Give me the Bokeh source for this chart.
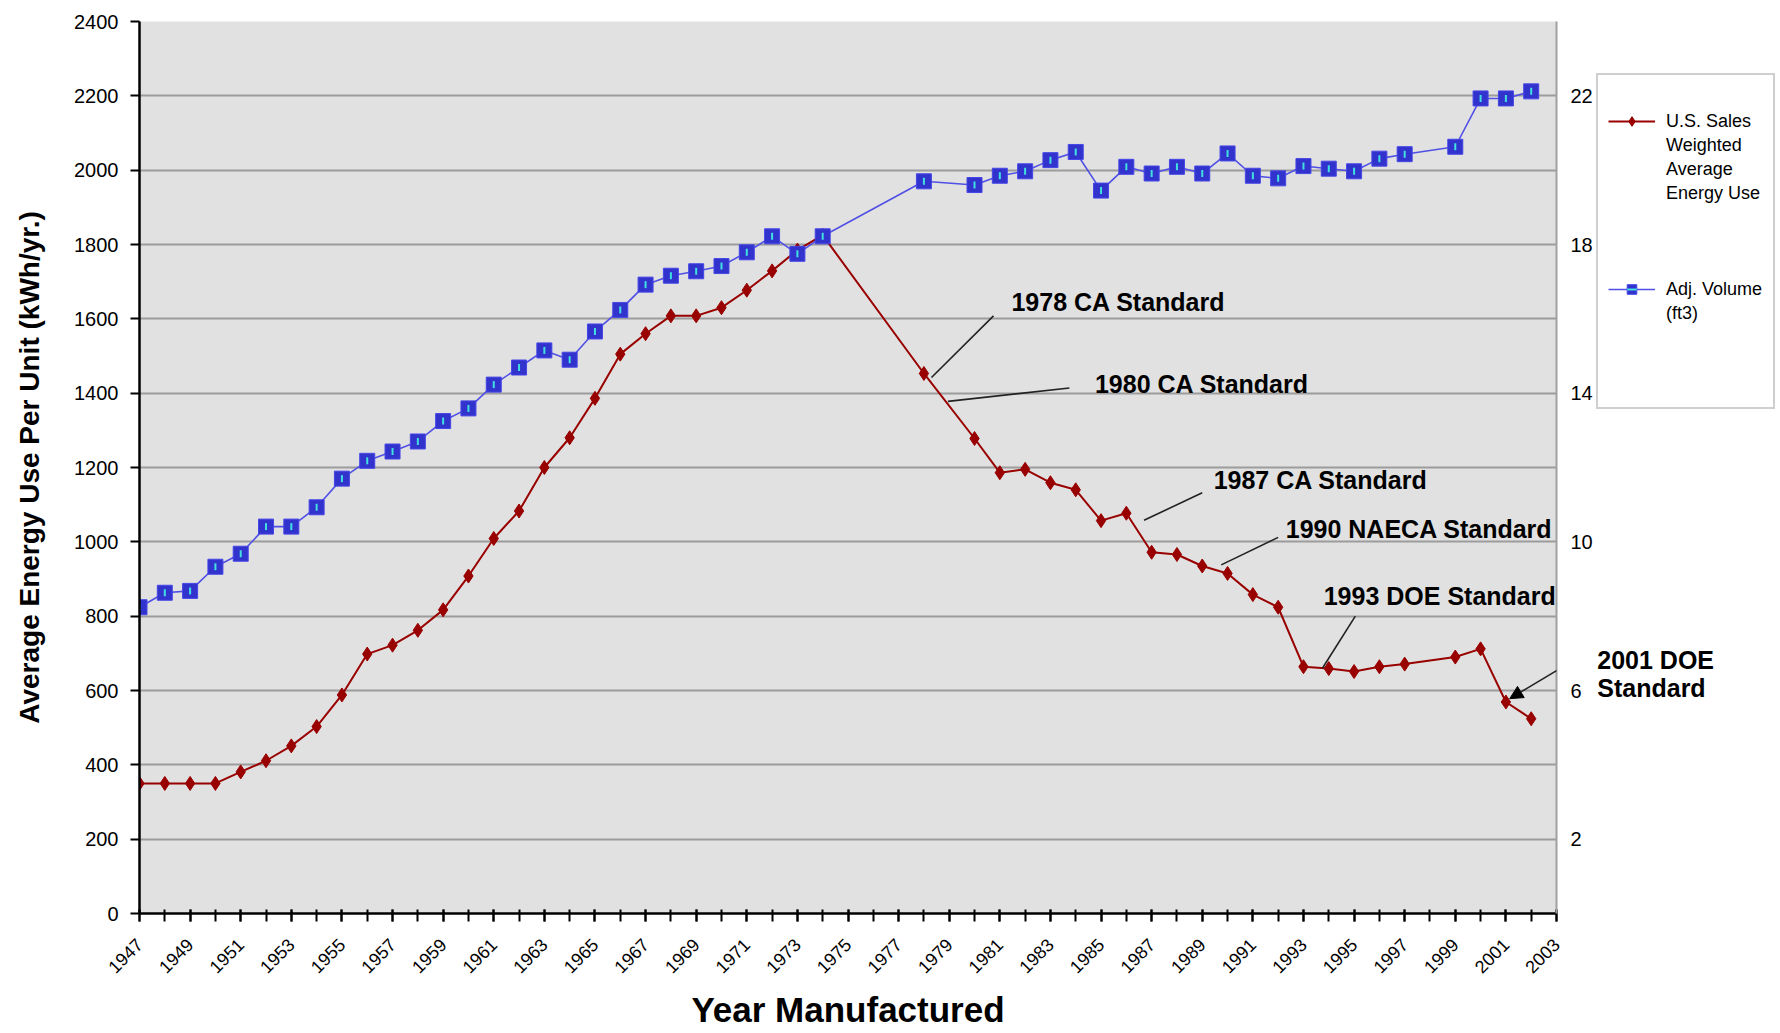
import math
from bokeh.plotting import figure
from bokeh.layouts import row
from bokeh.models import (Range1d, LinearAxis, FixedTicker, Legend, LegendItem,
                          Label, Arrow, NormalHead)
from bokeh.embed import file_html
from bokeh.resources import INLINE

# ---------------- data ----------------
years = [1947, 1948, 1949, 1950, 1951, 1952, 1953, 1954, 1955, 1956,
         1957, 1958, 1959, 1960, 1961, 1962, 1963, 1964, 1965, 1966,
         1967, 1968, 1969, 1970, 1971, 1972, 1973, 1974,
         1978,
         1980, 1981, 1982, 1983, 1984, 1985, 1986, 1987, 1988, 1989,
         1990, 1991, 1992, 1993, 1994, 1995, 1996, 1997,
         1999, 2000, 2001, 2002]

energy_kwh = [350, 350, 350, 350, 381, 411, 451, 503, 588, 698,
              722, 762, 817, 908, 1009, 1083, 1200, 1280, 1386, 1505,
              1560, 1608, 1608, 1630, 1677, 1729, 1785, 1825,
              1453,
              1278, 1186, 1195, 1159, 1140, 1057, 1077, 972, 966, 935,
              915, 858, 824, 664, 659, 651, 664, 671,
              690, 712, 569, 524]

volume_ft3 = [8.24, 8.63, 8.68, 9.33, 9.68, 10.41, 10.41, 10.93, 11.70, 12.18,
              12.43, 12.70, 13.25, 13.59, 14.23, 14.69, 15.15, 14.90, 15.66, 16.24,
              16.92, 17.16, 17.28, 17.42, 17.79, 18.22, 17.75, 18.22,
              19.70,
              19.60, 19.85, 19.97, 20.27, 20.49, 19.45, 20.09, 19.91, 20.09, 19.91,
              20.45, 19.85, 19.78, 20.11, 20.04, 19.97, 20.31, 20.43,
              20.63, 21.93, 21.93, 22.12]

x_label_years = list(range(1947, 2004, 2))
x_all_years = list(range(1947, 2004))
left_ticks = list(range(0, 2401, 200))
right_ticks = [2, 6, 10, 14, 18, 22]

std_texts = ["1978 CA Standard", "1980 CA Standard", "1987 CA Standard",
             "1990 NAECA Standard", "1993 DOE Standard"]
std_text_x = [1981.46, 1984.76, 1989.45, 1992.3, 1993.8]
std_text_y = [1646, 1426, 1166, 1035, 853]
lead_x0 = [1980.75, 1983.75, 1989.0, 1992.0, 1995.05]
lead_y0 = [1608, 1414, 1132, 1012, 800]
lead_x1 = [1978.3, 1978.95, 1986.7, 1989.75, 1993.75]
lead_y1 = [1442, 1378, 1058, 938, 660]

doe2001_lines = ["2001 DOE", "Standard"]
doe2001_x = 2004.33
doe2001_y = [683, 607]
doe2001_arrow = (2004.0, 694, 2001.15, 578)

legend_rows = [" ", "U.S. Sales", "Weighted", "Average", "Energy Use", " ", " ", " ",
               "Adj. Volume", "(ft3)", " ", " ", " "]

# ---------------- styling ----------------
FONT = "Liberation Sans"
RED = "#990000"
BLUE_LINE = "#5050E6"
BLUE_FILL = "#3232CC"
BLUE_EDGE = "#4646E8"
CYAN = "#40E0E0"
GRID = "#9c9c9c"
H = 1033
TOP, BOTTOM = 21, 120

y_rng = Range1d(0, 2400)

p = figure(width=1595, height=H, output_backend="svg", toolbar_location=None,
           x_range=Range1d(1947, 2003), y_range=y_rng,
           min_border_left=139, min_border_right=32, min_border_top=TOP,
           min_border_bottom=BOTTOM)
p.background_fill_color = "#E1E1E1"
p.border_fill_color = "white"
p.outline_line_color = None

p.xgrid.visible = False
p.ygrid.ticker = FixedTicker(ticks=left_ticks)
p.ygrid.grid_line_color = GRID
p.ygrid.grid_line_width = 2

# left axis
ly = p.yaxis[0]
ly.ticker = FixedTicker(ticks=left_ticks)
ly.axis_line_color = "black"
ly.axis_line_width = 2.5
ly.major_tick_in = 0
ly.major_tick_out = 9
ly.major_tick_line_width = 2
ly.minor_tick_line_color = None
ly.major_label_standoff = 12
ly.major_label_text_font = FONT
ly.major_label_text_font_size = "20px"
ly.major_label_text_color = "black"
ly.axis_label = "Average Energy Use Per Unit (kWh/yr.)"
ly.axis_label_text_font = FONT
ly.axis_label_text_font_style = "bold"
ly.axis_label_text_font_size = "28px"
ly.axis_label_text_color = "black"
ly.axis_label_standoff = 26

# bottom axis
bx = p.xaxis[0]
bx.ticker = FixedTicker(ticks=x_label_years, minor_ticks=x_all_years)
bx.axis_line_color = "black"
bx.axis_line_width = 2.5
bx.major_tick_in = 4
bx.major_tick_out = 8
bx.minor_tick_in = 4
bx.minor_tick_out = 8
bx.major_tick_line_width = 2
bx.minor_tick_line_width = 2
bx.minor_tick_line_color = "black"
bx.major_label_orientation = math.pi / 4
bx.major_label_standoff = 20
bx.major_label_text_font = FONT
bx.major_label_text_font_size = "18px"
bx.major_label_text_color = "black"
bx.axis_label = "Year Manufactured"
bx.axis_label_text_font = FONT
bx.axis_label_text_font_style = "bold"
bx.axis_label_text_font_size = "35px"
bx.axis_label_text_color = "black"
bx.axis_label_standoff = 8

# right axis
p.extra_y_ranges = {"vol": Range1d(0, 24)}
ry = LinearAxis(y_range_name="vol", ticker=FixedTicker(ticks=right_ticks))
ry.axis_line_color = "#a0a0a0"
ry.axis_line_width = 2
ry.major_tick_line_color = None
ry.minor_tick_line_color = None
ry.major_label_standoff = 8
ry.major_label_text_font = FONT
ry.major_label_text_font_size = "20px"
ry.major_label_text_color = "black"
p.add_layout(ry, "right")

# ---------------- series ----------------
red_style = dict(line_color=RED, line_width=2)
red_pt_style = dict(marker="diamond", size=14, fill_color=RED, line_color=RED)
blue_style = dict(line_color=BLUE_LINE, line_width=1.6)
blue_pt_style = dict(marker="square", size=15, fill_color=BLUE_FILL,
                     line_color=BLUE_EDGE, line_width=1)
blue_mk_style = dict(marker="dash", angle=math.pi / 2, size=7, line_color=CYAN,
                     line_width=2)

p.line(years, energy_kwh, **red_style)
p.scatter(years, energy_kwh, **red_pt_style)
p.line(years, volume_ft3, y_range_name="vol", **blue_style)
p.scatter(years, volume_ft3, y_range_name="vol", **blue_pt_style)
p.scatter(years, volume_ft3, y_range_name="vol", **blue_mk_style)

# ---------------- annotations ----------------
p.segment(x0=lead_x0, y0=lead_y0, x1=lead_x1, y1=lead_y1,
          line_color="#222222", line_width=1.6)
for t, tx, ty in zip(std_texts, std_text_x, std_text_y):
    p.add_layout(Label(x=tx, y=ty, text=t, text_font=FONT, text_font_style="bold",
                       text_font_size="25px", text_baseline="middle",
                       text_align="left", text_color="black"))
p.add_layout(Arrow(x_start=doe2001_arrow[0], y_start=doe2001_arrow[1],
                   x_end=doe2001_arrow[2], y_end=doe2001_arrow[3],
                   line_color="#222222", line_width=1.6,
                   end=NormalHead(size=13, fill_color="black", line_color="black")))

# ---------------- side panel: legend + 2001 note ----------------
p2 = figure(width=185, height=H, output_backend="svg", toolbar_location=None,
            x_range=Range1d(2004.26, 2011.54), y_range=y_rng,
            x_axis_type=None, y_axis_type=None,
            min_border_left=0, min_border_right=0, min_border_top=TOP,
            min_border_bottom=BOTTOM)
p2.outline_line_color = None
p2.background_fill_color = "white"
p2.border_fill_color = "white"
p2.xgrid.visible = False
p2.ygrid.visible = False

for t, ty in zip(doe2001_lines, doe2001_y):
    p2.add_layout(Label(x=doe2001_x, y=ty, text=t, text_font=FONT,
                        text_font_style="bold", text_font_size="25px",
                        text_baseline="middle", text_align="left",
                        text_color="black"))

# legend key renderers (their points lie outside this panel's x-range)
k_red_l = p2.line(years[:2], energy_kwh[:2], **red_style)
k_red_p = p2.scatter(years[:1], energy_kwh[:1], **red_pt_style)
k_blu_l = p2.line(years[:2], volume_ft3[:2], **blue_style)
k_blu_p = p2.scatter(years[:1], volume_ft3[:1], **blue_pt_style)
k_blu_m = p2.scatter(years[:1], volume_ft3[:1], **blue_mk_style)
blank = p2.line(years[:2], energy_kwh[:2], line_alpha=0)

items = []
for r in legend_rows:
    if r == "U.S. Sales":
        rs = [k_red_l, k_red_p]
    elif r == "Adj. Volume":
        rs = [k_blu_l, k_blu_p, k_blu_m]
    else:
        rs = [blank]
    items.append(LegendItem(label=r, renderers=rs))

legend = Legend(items=items, location=(1, 504), orientation="vertical",
                label_text_font=FONT, label_text_font_size="18px",
                label_text_color="black", label_height=24, glyph_height=24,
                glyph_width=47, label_width=97, label_standoff=11, spacing=0,
                padding=10, margin=0, border_line_color="#a0a0a0",
                border_line_width=2, background_fill_color="white",
                background_fill_alpha=1.0)
p2.add_layout(legend, "center")

layout = row(p, p2)
open("out.html", "w").write(file_html(layout, INLINE))
